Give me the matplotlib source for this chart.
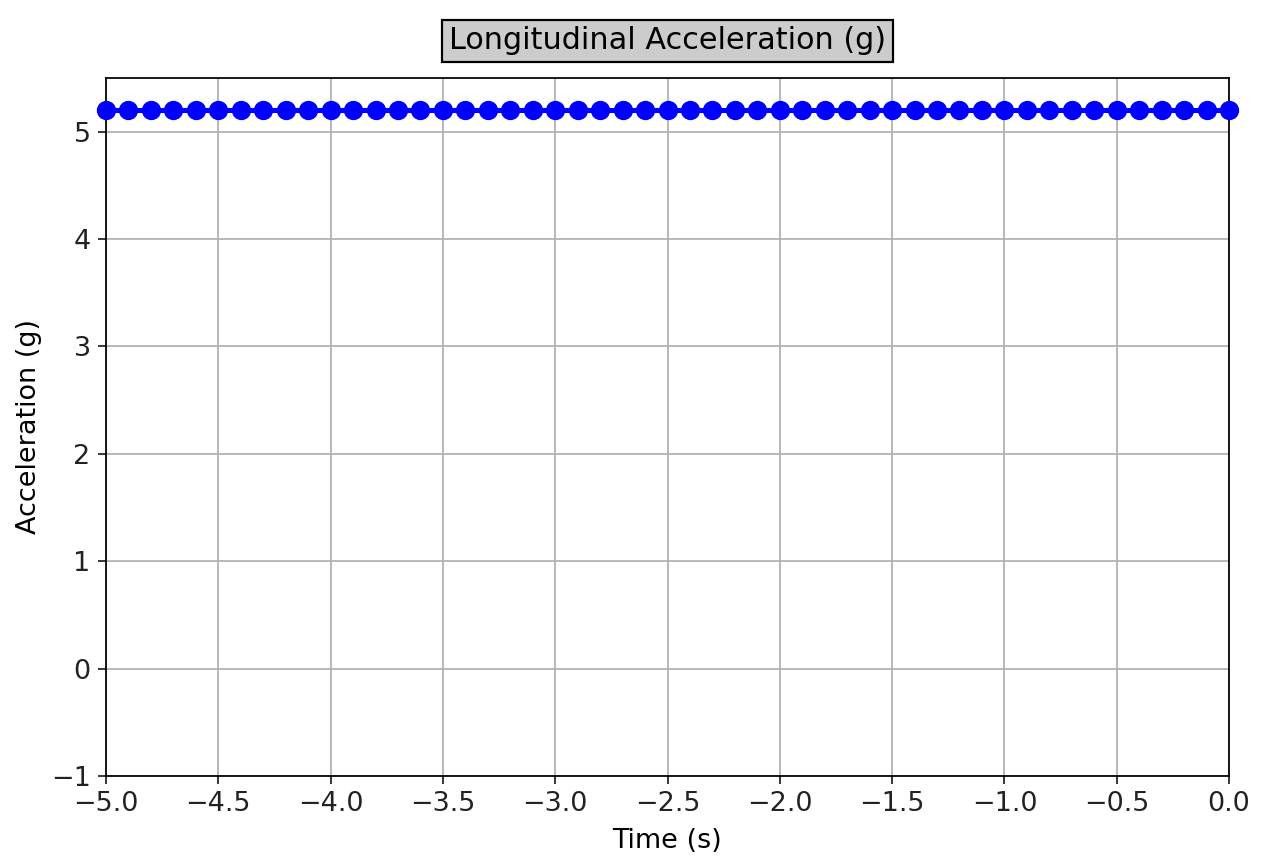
import numpy as np
import matplotlib
matplotlib.use("Agg")
import matplotlib.pyplot as plt

# time stamps (s) and longitudinal acceleration (g)
time_s = [-5.0, -4.9, -4.8, -4.7, -4.6, -4.5, -4.4, -4.3, -4.2, -4.1,
          -4.0, -3.9, -3.8, -3.7, -3.6, -3.5, -3.4, -3.3, -3.2, -3.1,
          -3.0, -2.9, -2.8, -2.7, -2.6, -2.5, -2.4, -2.3, -2.2, -2.1,
          -2.0, -1.9, -1.8, -1.7, -1.6, -1.5, -1.4, -1.3, -1.2, -1.1,
          -1.0, -0.9, -0.8, -0.7, -0.6, -0.5, -0.4, -0.3, -0.2, -0.1, 0.0]
accel_g = [5.2] * len(time_s)

x_ticks = [-5.0, -4.5, -4.0, -3.5, -3.0, -2.5, -2.0, -1.5, -1.0, -0.5, 0.0]
y_ticks = [-1, 0, 1, 2, 3, 4, 5]

dpi = 158
fig = plt.figure(figsize=(1262 / dpi, 860 / dpi), dpi=dpi)
ax = fig.add_axes([106 / 1262, 1 - 776 / 860, (1229 - 106) / 1262, (776 - 78) / 860])

ax.plot(time_s, accel_g, color="blue", marker="o", markersize=7.8, linewidth=2.3,
        clip_on=False, zorder=3)

ax.set_xlim(-5.0, 0.0)
ax.set_ylim(-1, 5.5)
ax.set_xticks(x_ticks)
ax.set_yticks(y_ticks)
ax.tick_params(labelsize=12.3, colors="#222222", labelcolor="#222222")
ax.grid(True)
ax.set_xlabel("Time (s)", fontsize=12.3, labelpad=5)
ax.set_ylabel("Acceleration (g)", fontsize=12.3)
ax.set_title("Longitudinal Acceleration (g)", fontsize=13.8, pad=13,
             bbox=dict(facecolor="#cccccc", edgecolor="black", pad=3))

fig.savefig("out.png", dpi=dpi)
